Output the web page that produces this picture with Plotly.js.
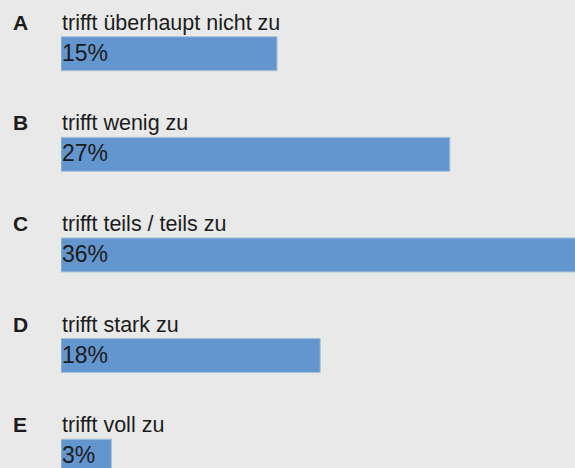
<!DOCTYPE html>
<html>
<head>
<meta charset="utf-8">
<script src="https://cdn.plot.ly/plotly-3.0.1.min.js"></script>
<style>
  html, body { margin: 0; padding: 0; background: #e9e9e9; }
  #chart { width: 575px; height: 468px; }
</style>
</head>
<body>
<div id="chart"></div>
<script>
const letters = ['A', 'B', 'C', 'D', 'E'];
const categories = [
  'trifft überhaupt nicht zu',
  'trifft wenig zu',
  'trifft teils / teils zu',
  'trifft stark zu',
  'trifft voll zu'
];
const values = [15, 27, 36, 18, 3.5];
const valueLabels = ['15%', '27%', '36%', '18%', '3%'];

const positions = categories.map((c, i) => i);

const FONT = 'Liberation Sans, Arial, sans-serif';
const TEXT_COLOR = '#1c1c1c';

const annotations = [];
positions.forEach((p, i) => {
  annotations.push({
    xref: 'paper', yref: 'y', x: 0, y: p,
    xanchor: 'left', yanchor: 'bottom',
    xshift: -50, yshift: 18,
    text: '<b>' + letters[i] + '</b>',
    showarrow: false,
    font: { family: FONT, size: 21, color: TEXT_COLOR }
  });
  annotations.push({
    xref: 'x', yref: 'y', x: 0, y: p,
    xanchor: 'left', yanchor: 'bottom',
    xshift: -1, yshift: 17,
    text: categories[i],
    showarrow: false,
    font: { family: FONT, size: 21.5, color: TEXT_COLOR }
  });
  annotations.push({
    xref: 'x', yref: 'y', x: 0, y: p,
    xanchor: 'left', yanchor: 'middle',
    xshift: -1, yshift: 1,
    text: valueLabels[i],
    showarrow: false,
    font: { family: FONT, size: 23, color: TEXT_COLOR }
  });
});

const trace = {
  type: 'bar',
  orientation: 'h',
  x: values,
  y: positions,
  width: 0.338,
  marker: { color: '#6395ce', line: { color: '#a8c3d8', width: 1 } },
  hoverinfo: 'skip'
};

const layout = {
  width: 575,
  height: 468,
  margin: { l: 61, r: 0, t: 0, b: 0, pad: 0 },
  paper_bgcolor: '#e9e9e9',
  plot_bgcolor: '#e9e9e9',
  showlegend: false,
  xaxis: {
    range: [0, 35.69],
    visible: false,
    fixedrange: true
  },
  yaxis: {
    range: [4.118, -0.534],
    visible: false,
    fixedrange: true
  },
  annotations: annotations
};

Plotly.newPlot('chart', [trace], layout, { displayModeBar: false, staticPlot: true });
</script>
</body>
</html>
